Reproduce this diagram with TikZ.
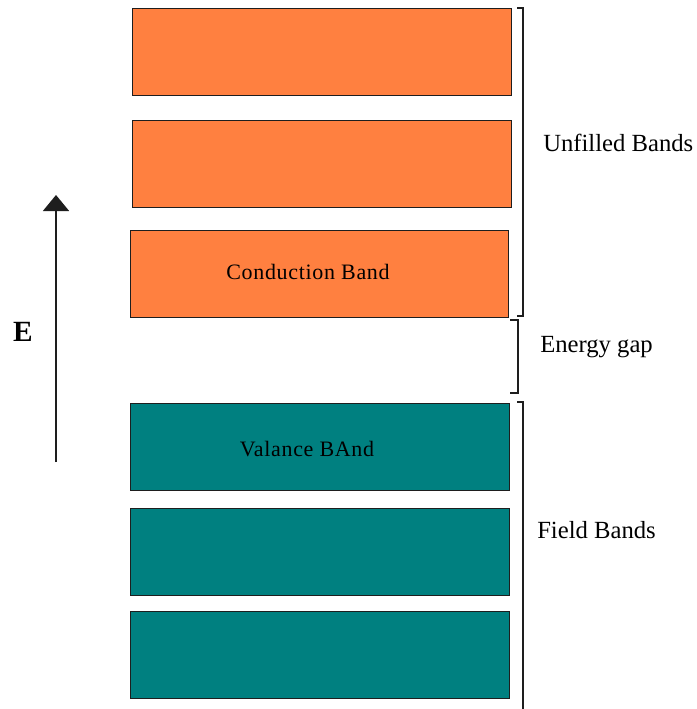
\documentclass[tikz,border=0pt]{standalone}
\usepackage{fontspec}
\setmainfont{Liberation Serif}
\newfontfamily\bandfont[LetterSpace=3]{Liberation Serif}
\usetikzlibrary{arrows.meta}
\definecolor{bandorange}{HTML}{FF8040}
\definecolor{bandteal}{HTML}{008080}
\definecolor{edge}{HTML}{1E1E1E}
\tikzset{
  band/.style={draw=edge, line width=1.1pt, minimum width=379*0.75pt, minimum height=87*0.75pt, inner sep=0pt, anchor=north west},
  upper/.style={band, fill=bandorange},
  lower/.style={band, fill=bandteal},
  bandtext/.style={font=\bandfont\fontsize{16.5}{18}\selectfont, inner sep=0pt},
  bracket/.style={draw=edge, line width=0.9pt},
  lbl/.style={font=\fontsize{18.5}{20}\selectfont, anchor=west, inner sep=0pt}
}
\begin{document}
\begin{tikzpicture}[x=0.75pt, y=-0.75pt]
\useasboundingbox (0,0) rectangle (696,709);
\fill[white] (0,0) rectangle (696,709);
% upper bands
\node[upper] (u1) at (132,8) {};
\node[upper] (u2) at (132,120) {};
\node[upper, minimum width=378*0.75pt] (u3) at (130,230) {};
\node[bandtext] (ct) at (308,272) {Conduction Band};
% lower bands
\node[lower] (l1) at (130,403) {};
\node[bandtext] (vt) at (307,449) {Valance BAnd};
\node[lower] (l2) at (130,508) {};
\node[lower] (l3) at (130,611) {};
% brackets
\coordinate (a1) at (517,8);
\coordinate (a2) at (523,8);
\coordinate (a3) at (523,316);
\coordinate (a4) at (517,316);
\draw[bracket] (a1) -- (a2) -- (a3) -- (a4);
\coordinate (b1) at (510,320);
\coordinate (b2) at (518,320);
\coordinate (b3) at (518,393);
\coordinate (b4) at (510,393);
\draw[bracket] (b1) -- (b2) -- (b3) -- (b4);
\coordinate (c1) at (517,402);
\coordinate (c2) at (523,402);
\coordinate (c3) at (523,709);
\draw[bracket] (c1) -- (c2) -- (c3);
% labels
\node[lbl] (tu) at (543,143) {Unfilled Bands};
\node[lbl] (te) at (540,347) {Energy gap};
\node[lbl] (tf) at (537,530) {Field Bands};
% energy arrow
\coordinate (e0) at (56,462);
\coordinate (e1) at (56,195);
\draw[edge, line width=1.1pt, -{Triangle[width=19.5pt, length=12pt]}] (e0) -- (e1);
\node (E) at (23,332) {\fontsize{22}{24}\selectfont\bfseries E};
\end{tikzpicture}
\end{document}
